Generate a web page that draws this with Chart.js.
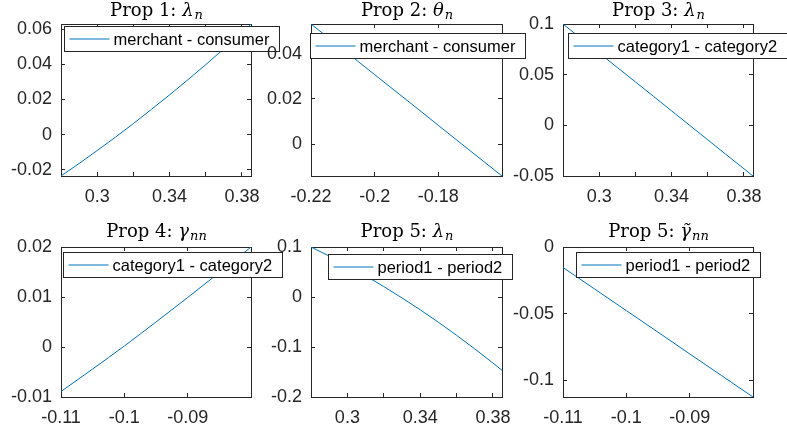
<!DOCTYPE html>
<html>
<head>
<meta charset="utf-8">
<script src="https://cdn.jsdelivr.net/npm/chart.js@4.4.1/dist/chart.umd.min.js"></script>
<style>
  html, body { margin: 0; padding: 0; background: #fff; }
  #wrap { position: relative; width: 787px; height: 437px; overflow: hidden; }
  #wrap canvas { position: absolute; left: 0; top: 0; }
</style>
</head>
<body>
<div id="wrap"></div>
<script>
// x grids
const lamX   = [0.28, 0.29, 0.30, 0.31, 0.32, 0.33, 0.34, 0.35, 0.36, 0.37, 0.38, 0.385];
const thetaX = [-0.22, -0.21, -0.20, -0.19, -0.18, -0.17, -0.16];
const gamX   = [-0.11, -0.105, -0.10, -0.095, -0.09, -0.085, -0.08];

// series values
const prop1Y = [-0.0235, -0.0164, -0.0090, -0.0015, 0.0063, 0.0144, 0.0226, 0.0311, 0.0398, 0.0488, 0.0580, 0.0629];
const prop2Y = [0.0533, 0.0421, 0.0308, 0.0196, 0.0083, -0.0030, -0.0142];
const prop3Y = [0.1, 0.0857, 0.0714, 0.0571, 0.0429, 0.0286, 0.0143, 0.0, -0.0143, -0.0286, -0.0429, -0.05];
const prop4Y = [-0.0089, -0.0044, 0.0002, 0.0050, 0.0099, 0.0149, 0.0200];
const prop5Y = [0.1, 0.0819, 0.0627, 0.0424, 0.0209, -0.0018, -0.0255, -0.0504, -0.0765, -0.1037, -0.1320, -0.1466];
const prop6Y = [-0.0154, -0.0316, -0.0478, -0.0640, -0.0803, -0.0965, -0.1127];

// tick positions and labelled ticks
const lamTicks   = [0.30, 0.32, 0.34, 0.36, 0.38];
const lamLabels  = [0.30, 0.34, 0.38];
const thetaTicks = [-0.22, -0.20, -0.18];
const gamTicks   = [-0.11, -0.10, -0.09];
const y1Ticks = [-0.02, 0, 0.02, 0.04, 0.06];
const y2Ticks = [0, 0.02, 0.04];
const y3Ticks = [-0.05, 0, 0.05, 0.1];
const y4Ticks = [-0.01, 0, 0.01, 0.02];
const y5Ticks = [-0.2, -0.1, 0, 0.1];
const y6Ticks = [-0.1, -0.05, 0];

const titles = [
  ['Prop 1: ', 'λ', 'n'],
  ['Prop 2: ', 'θ', 'n'],
  ['Prop 3: ', 'λ', 'n'],
  ['Prop 4: ', 'γ', 'nn'],
  ['Prop 5: ', 'λ', 'n'],
  ['Prop 5: ', 'γ\u0303', 'nn']
];
const legendLabels = ['merchant - consumer', 'merchant - consumer', 'category1 - category2',
                      'category1 - category2', 'period1 - period2', 'period1 - period2'];

const LINE = '#0072BD';
const AXIS = '#262626';
const W = 787, H = 437;

const panels = [
  { x: lamX,   y: prop1Y, xr: [0.28, 0.385],  yr: [-0.0235, 0.0629], xt: lamTicks,   xl: lamLabels,  yt: y1Ticks, area: [61, 24, 251, 176],  leg: [3, 2],  gap: 8 },
  { x: thetaX, y: prop2Y, xr: [-0.22, -0.16], yr: [-0.0142, 0.0533], xt: thetaTicks, xl: thetaTicks, yt: y2Ticks, area: [311, 24, 502, 176], leg: [-1, 9], gap: 8 },
  { x: lamX,   y: prop3Y, xr: [0.28, 0.385],  yr: [-0.05, 0.1],      xt: lamTicks,   xl: lamLabels,  yt: y3Ticks, area: [563, 24, 753, 176], leg: [5, 9],  gap: 8 },
  { x: gamX,   y: prop4Y, xr: [-0.11, -0.08], yr: [-0.01, 0.02],     xt: gamTicks,   xl: gamTicks,   yt: y4Ticks, area: [61, 247, 251, 397], leg: [2, 5],  gap: 10 },
  { x: lamX,   y: prop5Y, xr: [0.28, 0.385],  yr: [-0.2, 0.1],       xt: lamTicks,   xl: lamLabels,  yt: y5Ticks, area: [311, 247, 502, 397], leg: [17, 7], gap: 10 },
  { x: gamX,   y: prop6Y, xr: [-0.11, -0.08], yr: [-0.1127, 0],      xt: gamTicks,   xl: gamTicks,   yt: y6Ticks, area: [563, 247, 753, 397], leg: [13, 5], gap: 10 }
];

const fmt = v => String(parseFloat(v.toFixed(4)));
const has = (list, v) => list.some(l => Math.abs(l - v) < 1e-9);

// title with italic symbol + subscript, and a MATLAB style legend box
const panelDecor = {
  id: 'panelDecor',
  afterDraw(chart, args, opts) {
    const { ctx, chartArea: a } = chart;
    ctx.save();
    const base = a.top - opts.gap;
    const fMain = '18px "DejaVu Serif"';
    const fIt = 'italic 18px "DejaVu Serif"';
    const fSub = 'italic 13px "DejaVu Serif"';
    ctx.font = fMain; const w1 = ctx.measureText(opts.title[0]).width;
    ctx.font = fIt;   const w2 = ctx.measureText(opts.title[1]).width;
    ctx.font = fSub;  const w3 = ctx.measureText(opts.title[2]).width;
    let x = (a.left + a.right) / 2 - (w1 + w2 + w3) / 2;
    ctx.fillStyle = '#000';
    ctx.textAlign = 'left';
    ctx.textBaseline = 'alphabetic';
    ctx.font = fMain; ctx.fillText(opts.title[0], x, base); x += w1;
    ctx.font = fIt;   ctx.fillText(opts.title[1], x, base); x += w2 + 1;
    ctx.font = fSub;  ctx.fillText(opts.title[2], x, base + 3);

    // legend
    const label = chart.data.datasets[0].label;
    const lx = Math.round(a.left + opts.leg[0]) + 0.5;
    const ly = Math.round(a.top + opts.leg[1]) + 0.5;
    ctx.font = '16.5px "Liberation Sans"';
    const tw = ctx.measureText(label).width;
    const bw = Math.round(5 + 40 + 4 + tw + 10), bh = 25;
    ctx.fillStyle = '#fff';
    ctx.fillRect(lx, ly, bw, bh);
    ctx.strokeStyle = AXIS;
    ctx.lineWidth = 1;
    ctx.strokeRect(lx, ly, bw, bh);
    ctx.strokeStyle = LINE;
    ctx.beginPath();
    ctx.moveTo(lx + 5, ly + bh / 2);
    ctx.lineTo(lx + 45, ly + bh / 2);
    ctx.stroke();
    ctx.fillStyle = '#000';
    ctx.textBaseline = 'middle';
    ctx.fillText(label, lx + 49, ly + bh / 2 + 1);
    ctx.restore();
  }
};

function makeAxis(pos, range, ticks, labels, show) {
  const horiz = pos === 'top' || pos === 'bottom';
  return {
    type: 'linear',
    axis: horiz ? 'x' : 'y',
    position: pos,
    min: range[0],
    max: range[1],
    afterBuildTicks: s => { s.ticks = ticks.map(v => ({ value: v })); },
    afterFit: s => {
      if (horiz) s.height = show ? 30 : 0;
      else s.width = show ? 50 : 0;
    },
    ticks: {
      autoSkip: false,
      maxRotation: 0,
      padding: horiz ? 14 : 13,
      color: AXIS,
      font: { family: 'Liberation Sans', size: 18 },
      callback: v => (show && has(labels, v)) ? fmt(v) : ''
    },
    grid: { drawOnChartArea: false, drawTicks: true, tickLength: -4, color: AXIS, lineWidth: 1 },
    border: { display: true, color: AXIS, width: 1 }
  };
}

const wrap = document.getElementById('wrap');
panels.forEach((p, i) => {
  const cv = document.createElement('canvas');
  cv.width = W; cv.height = H;
  wrap.appendChild(cv);
  const [L, T, R, B] = p.area;
  new Chart(cv.getContext('2d'), {
    type: 'line',
    data: {
      datasets: [{
        label: legendLabels[i],
        data: p.x.map((v, k) => ({ x: v, y: p.y[k] })),
        borderColor: LINE,
        borderWidth: 1,
        pointRadius: 0,
        cubicInterpolationMode: 'monotone',
        fill: false
      }]
    },
    options: {
      responsive: false,
      animation: false,
      devicePixelRatio: 1,
      layout: { padding: { left: L - 50, top: T, right: W - R, bottom: H - B - 30 } },
      scales: {
        x: makeAxis('bottom', p.xr, p.xt, p.xl, true),
        x2: makeAxis('top', p.xr, p.xt, p.xl, false),
        y: makeAxis('left', p.yr, p.yt, p.yt, true),
        y2: makeAxis('right', p.yr, p.yt, p.yt, false)
      },
      plugins: {
        legend: { display: false },
        title: { display: false },
        tooltip: { enabled: false },
        panelDecor: { title: titles[i], leg: p.leg, gap: p.gap }
      }
    },
    plugins: [panelDecor]
  });
});
</script>
</body>
</html>
